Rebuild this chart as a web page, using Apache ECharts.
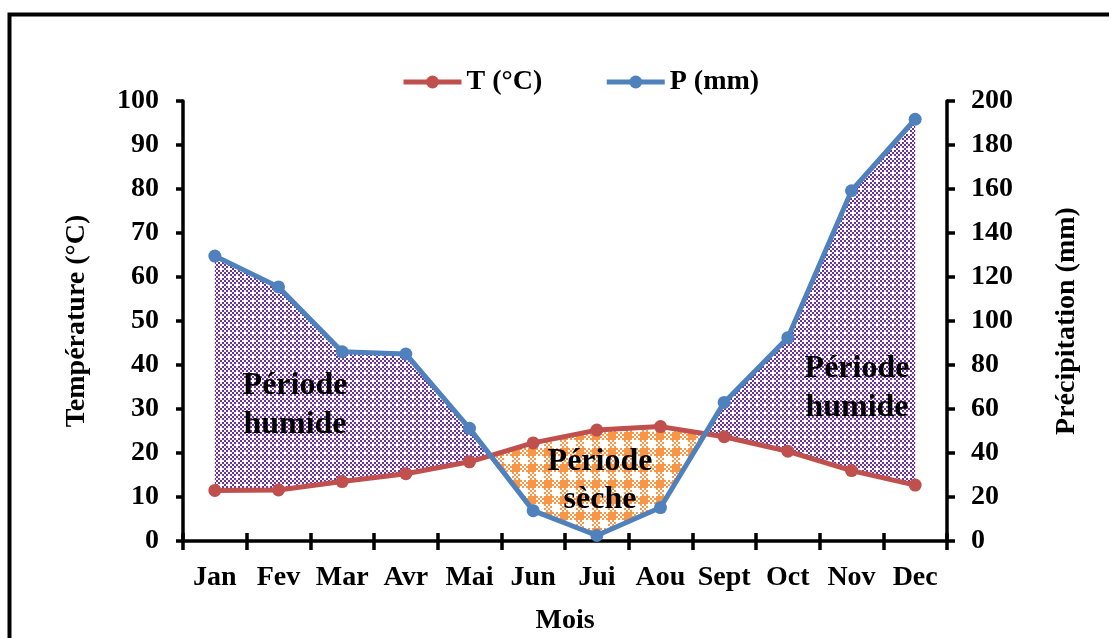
<!DOCTYPE html>
<html>
<head>
<meta charset="utf-8">
<script src="https://cdn.jsdelivr.net/npm/echarts@6/dist/echarts.min.js"></script>
<style>
  html, body { margin: 0; padding: 0; background: #fff; }
  #chart { width: 1109px; height: 638px; }
</style>
</head>
<body>
<div id="chart"></div>
<script>
// Monthly climate values (ombrothermic diagram, P = 2T)
const months = ['Jan', 'Fev', 'Mar', 'Avr', 'Mai', 'Jun', 'Jui', 'Aou', 'Sept', 'Oct', 'Nov', 'Dec'];
const temperature = [11.5, 11.6, 13.5, 15.3, 18.0, 22.3, 25.2, 26.0, 23.7, 20.4, 16.0, 12.7];
const precipitation = [129.5, 115.5, 86.0, 85.0, 51.2, 13.8, 2.5, 15.2, 63.0, 92.4, 159.2, 191.7];
const tempTicks = [0, 100, 10];   // min, max, interval
const precTicks = [0, 200, 20];

const FONT = '"Liberation Serif", "Times New Roman", serif';
const RED = '#C0504D';
const BLUE = '#4F81BD';
const PURPLE = '#7030A0';
const ORANGE = '#F79646';

// Fine purple checker with periodic white dots (humid period)
function purplePattern() {
  const c = document.createElement('canvas');
  c.width = 8; c.height = 8;
  const g = c.getContext('2d');
  g.fillStyle = '#fff'; g.fillRect(0, 0, 8, 8);
  g.fillStyle = PURPLE;
  for (let y = 0; y < 4; y++) {
    for (let x = 0; x < 4; x++) {
      if ((x + y) % 2 === 0 && !(x === 2 && y === 2)) g.fillRect(x * 2, y * 2, 2, 2);
    }
  }
  return c;
}

// Orange gingham-like checker (dry period)
function orangePattern() {
  const c = document.createElement('canvas');
  c.width = 16; c.height = 16;
  const g = c.getContext('2d');
  g.fillStyle = '#fff'; g.fillRect(0, 0, 16, 16);
  g.fillStyle = ORANGE;
  g.fillRect(0, 0, 8, 8);
  for (let y = 0; y < 8; y++) {
    for (let x = 0; x < 8; x++) {
      if ((x + y) % 2 === 0) {
        const px = x * 2, py = y * 2;
        const inTR = px >= 8 && py < 8;
        const inBL = px < 8 && py >= 8;
        if (inTR || inBL) g.fillRect(px, py, 2, 2);
      }
    }
  }
  return c;
}

const humidFill = { image: purplePattern(), repeat: 'repeat' };
const dryFill = { image: orangePattern(), repeat: 'repeat' };

// Build the regions between the T curve and the P/2 curve
function renderPeriods(params, api) {
  const n = months.length;
  const tp = [], pp = [], d = [];
  for (let i = 0; i < n; i++) {
    tp.push(api.coord([i, temperature[i]]));
    pp.push(api.coord([i, precipitation[i] / 2]));
    d.push(precipitation[i] / 2 - temperature[i]);
  }
  const polys = [];
  let upper = [pp[0]], lower = [tp[0]], sign = d[0] >= 0 ? 1 : -1;
  for (let i = 0; i < n - 1; i++) {
    const s2 = d[i + 1] >= 0 ? 1 : -1;
    if (s2 !== sign) {
      const f = d[i] / (d[i] - d[i + 1]);
      const cx = tp[i][0] + f * (tp[i + 1][0] - tp[i][0]);
      const cy = tp[i][1] + f * (tp[i + 1][1] - tp[i][1]);
      upper.push([cx, cy]);
      polys.push({ sign: sign, pts: upper.concat(lower.slice().reverse()) });
      upper = [[cx, cy]]; lower = [];
      sign = s2;
    }
    upper.push(pp[i + 1]);
    lower.push(tp[i + 1]);
  }
  polys.push({ sign: sign, pts: upper.concat(lower.slice().reverse()) });
  return {
    type: 'group',
    children: polys.map(p => ({
      type: 'polygon',
      shape: { points: p.pts },
      style: { fill: p.sign > 0 ? humidFill : dryFill, stroke: null }
    }))
  };
}

const chart = echarts.init(document.getElementById('chart'), null, { renderer: 'canvas' });

const axisText = { fontFamily: FONT, fontWeight: 'bold', fontSize: 28, color: '#000' };

chart.setOption({
  animation: false,
  backgroundColor: '#fff',
  textStyle: { fontFamily: FONT },
  grid: { left: 183, right: 162, top: 101, bottom: 97, containLabel: false, outerBoundsMode: 'none' },
  legend: {
    left: 396, top: 63,
    itemWidth: 58, itemHeight: 16, itemGap: 62,
    lineStyle: { width: 5 },
    textStyle: { fontFamily: FONT, fontWeight: 'bold', fontSize: 28, color: '#000' },
    data: ['T (°C)', 'P (mm)']
  },
  xAxis: [{
    type: 'category',
    data: months,
    boundaryGap: true,
    name: 'Mois',
    nameLocation: 'middle',
    nameGap: 66,
    nameTextStyle: axisText,
    axisLine: { lineStyle: { color: '#000', width: 3.5 } },
    axisTick: { show: true, interval: 0, length: 9, lineStyle: { color: '#000', width: 3.5 } },
    axisLabel: Object.assign({ interval: 0, margin: 23 }, axisText),
    splitLine: { show: false }
  }, {
    // upward half of the crossing month ticks
    type: 'category',
    data: months,
    position: 'bottom',
    boundaryGap: true,
    axisLine: { show: false },
    axisTick: { show: true, inside: true, interval: 0, length: 8, lineStyle: { color: '#000', width: 3.5 } },
    axisLabel: { show: false },
    splitLine: { show: false }
  }],
  yAxis: [{
    type: 'value',
    min: tempTicks[0], max: tempTicks[1], interval: tempTicks[2],
    name: 'Température (°C)',
    nameLocation: 'middle',
    nameRotate: 90,
    nameGap: 92,
    nameTextStyle: axisText,
    axisLine: { show: true, lineStyle: { color: '#000', width: 3.5 } },
    axisTick: { show: true, length: 7, lineStyle: { color: '#000', width: 3.5 } },
    axisLabel: Object.assign({ margin: 24 }, axisText),
    splitLine: { show: false }
  }, {
    type: 'value',
    position: 'right',
    min: precTicks[0], max: precTicks[1], interval: precTicks[2],
    name: 'Précipitation (mm)',
    nameLocation: 'middle',
    nameRotate: 90,
    nameGap: 106,
    nameTextStyle: axisText,
    axisLine: { show: true, lineStyle: { color: '#000', width: 3.5 } },
    axisTick: { show: true, length: 8, lineStyle: { color: '#000', width: 3.5 } },
    axisLabel: Object.assign({ margin: 24 }, axisText),
    splitLine: { show: false }
  }],
  series: [{
    type: 'custom',
    name: 'periods',
    xAxisIndex: 0,
    yAxisIndex: 0,
    renderItem: renderPeriods,
    data: [0],
    silent: true,
    z: 1
  }, {
    name: 'T (°C)',
    type: 'line',
    yAxisIndex: 0,
    data: temperature,
    symbol: 'circle',
    symbolSize: 13,
    lineStyle: { color: RED, width: 5 },
    itemStyle: { color: RED },
    z: 3
  }, {
    name: 'P (mm)',
    type: 'line',
    yAxisIndex: 1,
    data: precipitation,
    symbol: 'circle',
    symbolSize: 13,
    lineStyle: { color: BLUE, width: 5 },
    itemStyle: { color: BLUE },
    z: 4
  }],
  graphic: [{
    type: 'rect',
    shape: { x: 9.5, y: 14.5, width: 1300, height: 800 },
    style: { fill: null, stroke: '#000', lineWidth: 4 },
    silent: true
  }, {
    type: 'text', x: 295, y: 405, z: 10,
    style: { text: 'Période\nhumide', font: 'bold 32px ' + FONT, fill: '#000',
             align: 'center', verticalAlign: 'middle', lineHeight: 39 }
  }, {
    type: 'text', x: 857, y: 388, z: 10,
    style: { text: 'Période\nhumide', font: 'bold 32px ' + FONT, fill: '#000',
             align: 'center', verticalAlign: 'middle', lineHeight: 39 }
  }, {
    type: 'text', x: 600, y: 481, z: 10,
    style: { text: 'Période\nsèche', font: 'bold 32px ' + FONT, fill: '#000',
             align: 'center', verticalAlign: 'middle', lineHeight: 38 }
  }]
});
</script>
</body>
</html>
